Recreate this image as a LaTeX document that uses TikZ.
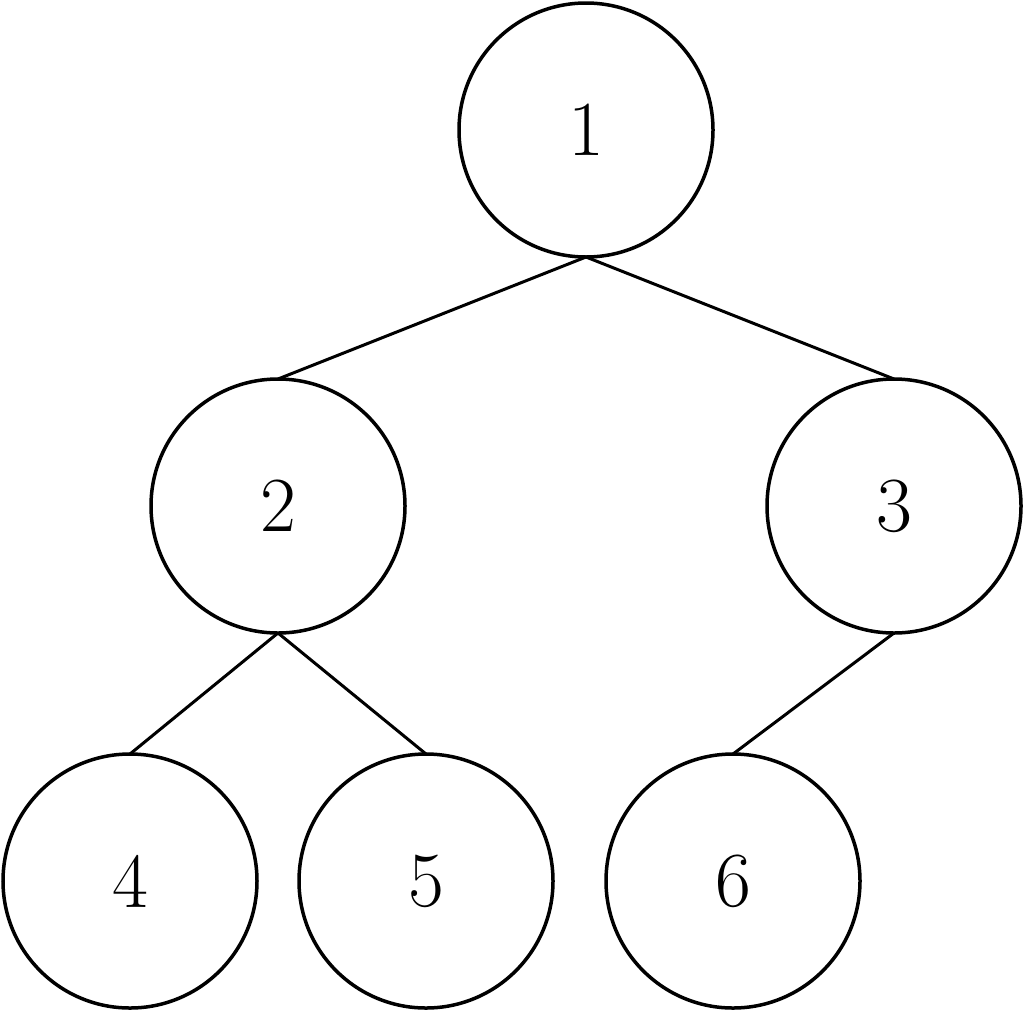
\documentclass[tikz,border=0pt]{standalone}
\begin{document}
\begin{tikzpicture}[x=1pt,y=-1pt,
  vtx/.style={circle,draw,line width=3.5pt,minimum size=254pt,inner sep=0pt,outer sep=0pt,font=\fontsize{78}{90}\selectfont},
  edge/.style={line width=3pt}]
\useasboundingbox (0,0) rectangle (1024,1012);
\node[vtx] (n1) at (586,130) {1};
\node[vtx] (n2) at (278,506) {2};
\node[vtx] (n3) at (894,506) {3};
\node[vtx] (n4) at (130,881) {4};
\node[vtx] (n5) at (426,881) {5};
\node[vtx] (n6) at (733,881) {6};
\draw[edge] (n1.south) -- (n2.north);
\draw[edge] (n1.south) -- (n3.north);
\draw[edge] (n2.south) -- (n4.north);
\draw[edge] (n2.south) -- (n5.north);
\draw[edge] (n3.south) -- (n6.north);
\end{tikzpicture}
\end{document}
